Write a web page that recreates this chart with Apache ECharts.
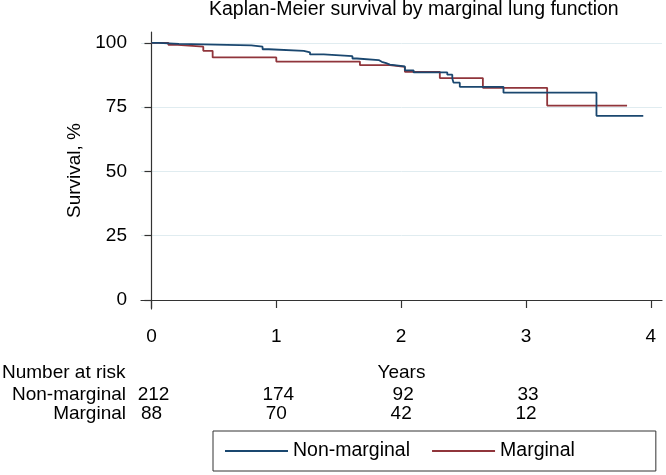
<!DOCTYPE html>
<html>
<head>
<meta charset="utf-8">
<script src="https://cdn.jsdelivr.net/npm/echarts@6/dist/echarts.min.js"></script>
<style>html,body{margin:0;padding:0;background:#fff;}#c{width:666px;height:475px;}</style>
</head>
<body>
<div id="c"></div>
<script>
// Kaplan-Meier step points: [years, survival %]
var nonMarginalTimes = [0, 0.055, 0.22, 0.80, 0.89, 0.94, 1.22, 1.27, 1.38, 1.61, 1.645, 1.82, 1.845, 1.88, 1.91, 2.03, 2.10, 2.37, 2.41, 2.42, 2.47, 2.82, 3.565, 3.94];
var nonMarginalSurv  = [100, 99.6, 99.0, 98.5, 97.5, 96.9, 96.3, 95.5, 94.8, 93.9, 93.3, 92.6, 92.1, 91.5, 90.8, 89.3, 88.5, 87.6, 86.1, 84.5, 82.9, 80.6, 71.6, 71.6];
var marginalTimes = [0, 0.135, 0.21, 0.415, 0.49, 1.00, 1.67, 1.91, 2.03, 2.31, 2.655, 3.17, 3.81];
var marginalSurv  = [100, 99.2, 98.5, 96.9, 94.3, 92.7, 91.3, 90.6, 88.7, 86.3, 82.5, 75.6, 75.6];

var xTicks = [0, 1, 2, 3, 4];
var yTicks = [0, 25, 50, 75, 100];

var riskTimes = [0, 1, 2, 3];
var riskNonMarginal = [212, 174, 92, 33];
var riskMarginal = [88, 70, 42, 12];

var seriesNames = ['Non-marginal', 'Marginal'];
var colors = ['#1a476f', '#90353b'];

function pairs(t, s) { return t.map(function (v, i) { return [v, s[i]]; }); }

var FONT = 'Liberation Sans, Arial, Helvetica, sans-serif';
var FS = 19;
var chart = echarts.init(document.getElementById('c'), null, { renderer: 'canvas' });

var option = {
  backgroundColor: '#fff',
  animation: false,
  title: {
    text: 'Kaplan-Meier survival by marginal lung function',
    left: 209, top: 0, padding: 0,
    textStyle: { fontFamily: FONT, fontSize: 19.5, fontWeight: 'normal', color: '#000' }
  },
  grid: { left: 141, top: 32, width: 521, height: 277, containLabel: false },
  xAxis: {
    type: 'value', min: -0.084, max: 4.09,
    name: 'Years', nameLocation: 'middle', nameGap: 54,
    nameTextStyle: { fontFamily: FONT, fontSize: FS, color: '#000' },
    axisLine: { show: true, lineStyle: { color: '#333', width: 1.2 } },
    axisTick: { show: true, length: 8, customValues: xTicks, lineStyle: { color: '#333', width: 1.2 } },
    axisLabel: { customValues: xTicks, margin: 18, fontFamily: FONT, fontSize: FS, color: '#000' },
    splitLine: { show: false }
  },
  yAxis: {
    type: 'value', min: -3.5, max: 104.2,
    name: 'Survival, %', nameLocation: 'middle', nameGap: 54, nameRotate: 90,
    nameTextStyle: { fontFamily: FONT, fontSize: FS, color: '#000' },
    axisLine: { show: true, lineStyle: { color: '#333', width: 1.2 } },
    axisTick: { show: true, length: 7, customValues: yTicks, lineStyle: { color: '#333', width: 1.2 } },
    axisLabel: { customValues: yTicks, margin: 14, fontFamily: FONT, fontSize: FS, color: '#000' },
    splitLine: { show: true, lineStyle: { color: '#e0ecf0', width: 1 } }
  },
  legend: {
    data: seriesNames.map(function (n) { return { name: n, icon: 'rect' }; }),
    left: 213, top: 431,
    orient: 'horizontal',
    padding: [10, 81, 10, 12],
    itemWidth: 63, itemHeight: 2, itemGap: 22,
    borderColor: '#333', borderWidth: 1, borderRadius: 0,
    textStyle: { fontFamily: FONT, fontSize: 19.5, color: '#000', padding: [0, 0, 0, 0] }
  },
  series: [
    {
      name: seriesNames[0], type: 'line', step: 'end', symbol: 'none', showSymbol: false,
      data: pairs(nonMarginalTimes, nonMarginalSurv),
      lineStyle: { color: colors[0], width: 1.8 }, itemStyle: { color: colors[0] }, z: 3
    },
    {
      name: seriesNames[1], type: 'line', step: 'end', symbol: 'none', showSymbol: false,
      data: pairs(marginalTimes, marginalSurv),
      lineStyle: { color: colors[1], width: 1.8 }, itemStyle: { color: colors[1] }, z: 2
    }
  ]
};
chart.setOption(option);

// Number-at-risk table positioned from the x axis scale
var elems = [];
var tStyle = { fontFamily: FONT, fontSize: FS, fill: '#000' };
elems.push({ type: 'text', left: 2, top: 363, style: Object.assign({ text: 'Number at risk' }, tStyle) });
elems.push({ type: 'text', x: 126, y: 395, style: Object.assign({ text: seriesNames[0], textAlign: 'right', textVerticalAlign: 'middle' }, tStyle) });
elems.push({ type: 'text', x: 126, y: 414, style: Object.assign({ text: seriesNames[1], textAlign: 'right', textVerticalAlign: 'middle' }, tStyle) });
riskTimes.forEach(function (t, i) {
  var px = chart.convertToPixel({ xAxisIndex: 0 }, t);
  elems.push({ type: 'text', x: px + 2, y: 395, style: Object.assign({ text: String(riskNonMarginal[i]), textAlign: 'center', textVerticalAlign: 'middle' }, tStyle) });
  elems.push({ type: 'text', x: px, y: 414, style: Object.assign({ text: String(riskMarginal[i]), textAlign: 'center', textVerticalAlign: 'middle' }, tStyle) });
});
chart.setOption({ graphic: { elements: elems } });
</script>
</body>
</html>
